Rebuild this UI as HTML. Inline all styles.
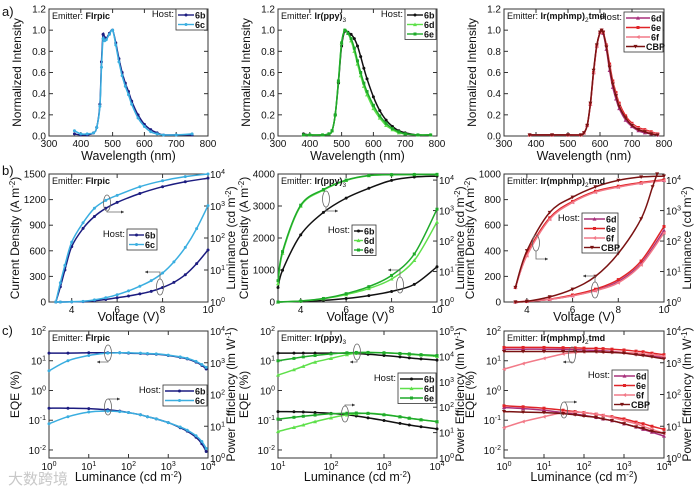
<!DOCTYPE html>
<html><head><meta charset="utf-8"><style>
html,body{margin:0;padding:0;background:#fff}
svg{display:block;font-family:"Liberation Sans","Noto Sans CJK SC",sans-serif}
</style></head><body>
<svg id="chart" width="700" height="491" viewBox="0 0 700 491" xmlns="http://www.w3.org/2000/svg"></svg>
<script>
// ---- Panel a data (EL spectra) ----
const wlA1 = [380,400,420,440,450,460,465,470,475,480,490,500,510,520,530,540,550,560,580,600,620,640,660,700,750];
const a1_6b = [0.02,0.01,0.01,0.03,0.08,0.3,0.7,0.96,0.93,0.92,0.97,1.0,0.88,0.73,0.6,0.5,0.42,0.33,0.2,0.11,0.06,0.03,0.01,0.01,0.01];
const a1_6c = [0.05,0.02,0.02,0.03,0.08,0.28,0.65,0.92,0.9,0.91,0.96,1.0,0.86,0.7,0.57,0.47,0.39,0.3,0.17,0.09,0.04,0.02,0.01,0.01,0.02];
const wlA2 = [380,400,440,460,470,480,490,500,510,520,530,540,550,560,570,580,600,620,640,660,680,700,740,780];
const a2_6b = [0.02,0.01,0.01,0.02,0.05,0.2,0.5,0.85,0.99,0.98,0.96,0.92,0.85,0.75,0.64,0.54,0.37,0.24,0.15,0.09,0.05,0.03,0.01,0.01];
const a2_6d = [0.01,0.01,0.01,0.02,0.05,0.2,0.52,0.88,1.0,0.97,0.9,0.8,0.68,0.57,0.47,0.39,0.26,0.17,0.1,0.06,0.03,0.02,0.01,0.01];
const a2_6e = [0.01,0.01,0.01,0.02,0.05,0.2,0.52,0.88,1.0,0.97,0.92,0.83,0.71,0.6,0.5,0.42,0.29,0.19,0.12,0.07,0.04,0.02,0.01,0.01];
const wlA3 = [380,450,500,540,550,560,570,580,590,600,605,610,620,630,640,650,660,680,700,720,740,760,780];
const a3_6d = [0.01,0.01,0.01,0.01,0.03,0.1,0.3,0.6,0.85,0.98,1.0,0.97,0.82,0.62,0.46,0.35,0.26,0.15,0.09,0.05,0.03,0.02,0.01];
const a3_6e = [0.01,0.01,0.01,0.01,0.03,0.1,0.3,0.6,0.85,0.98,1.0,0.98,0.86,0.68,0.52,0.41,0.31,0.19,0.12,0.08,0.06,0.04,0.02];
const a3_6f = [0.01,0.01,0.01,0.01,0.03,0.1,0.3,0.6,0.85,0.98,1.0,0.98,0.85,0.66,0.5,0.39,0.29,0.17,0.11,0.07,0.05,0.03,0.02];
const a3_CBP = [0.01,0.01,0.01,0.01,0.03,0.1,0.31,0.62,0.86,0.98,1.0,0.98,0.84,0.65,0.49,0.38,0.28,0.17,0.1,0.06,0.04,0.02,0.01];
// ---- Panel b data (J-V-L) ----
const vJ1 = [3.3,3.5,4,4.5,5,5.5,6,6.5,7,7.5,8,8.5,9,9.5,10];
const b1J_6b = [0,0,2,5,15,30,50,70,95,125,170,230,320,450,610];
const b1J_6c = [0,0,3,8,25,50,85,130,185,250,340,470,640,860,1130];
const vL1 = [3.3,3.5,3.7,4,4.5,5,5.5,6,7,8,9,10];
const b1L_6b = [1,3,10,54,200,470,850,1300,2450,4000,5750,7400];
const b1L_6c = [1,4,14,74,300,850,1500,2150,4000,6150,8300,10000];
const vJ2 = [3,4,5,6,7,8,9,10];
const b2J_6b = [0,20,50,110,200,330,550,1100];
const b2J_6d = [0,30,100,230,420,720,1300,2500];
const b2J_6e = [0,30,110,260,480,830,1500,2900];
const vL2 = [3,3.2,4,5,6,7,8,9,10];
const b2L_6b = [3,11,160,870,2570,5400,9800,12600,13500];
const b2L_6d = [4,40,1400,4700,9800,14000,15000,15200,15300];
const b2L_6e = [5,45,1500,4900,10000,14200,15100,15300,15400];
const vJ3 = [3.5,4,5,6,7,8,9,10];
const b3J_6d = [0,5,20,50,90,160,300,560];
const b3J_6e = [0,5,22,55,100,175,320,590];
const b3J_6f = [0,5,20,48,88,150,290,540];
const vJ3c = [3.5,4,5,6,7,8,9,9.5,9.7];
const b3J_CBP = [0,5,40,100,200,380,650,900,1000];
const vL3 = [3.5,4,5,6,7,8,9,10];
const b3L_6d = [3,35,540,1900,4100,6000,8000,9800];
const b3L_6e = [3,38,580,2000,4300,6300,8300,10200];
const b3L_6f = [3,33,520,1850,4000,5900,7900,9600];
const b3L_CBP = [3,48,870,2750,6000,9800,12600,13500];
// ---- Panel c data (EQE / PE vs luminance) ----
const lC1 = [1,3,10,30,60,100,200,300,500,1000,2000,3000,5000,7000,9000];
const c1E_6b = [18,18,18.5,18.5,18.5,18,17.5,17,16.5,15,13,11.5,9,7,5.3];
const c1E_6c = [4.6,10,15,18,18.5,18.5,18,17.5,17,15.5,13.5,12,9.5,7.5,6];
const c1P_6b = [37,37,36,33,30,27,23,20,17,13,9,7,4.5,2.8,1.6];
const c1P_6c = [12,20,28,30,29,27,23,20,17,13,9.5,7.5,5,3.3,2];
const lC2 = [10,20,30,50,100,200,300,500,1000,2000,3000,5000,10000];
const c2E_6b = [18,18,18,18,18,18,17.5,16.5,15,13.5,12.5,11.5,10.5];
const c2E_6d = [3.3,5,6.5,9,12,16,18,19,18.5,17.5,16.5,15.5,14];
const c2E_6e = [10,12,13.5,15,17,18.5,19,19,18.5,17.5,17,16,15];
const c2P_6b = [67,66,65,62,57,50,45,38,30,23,20,17,14];
const c2P_6d = [11,16,20,27,38,50,55,58,52,42,37,32,27];
const c2P_6e = [34,40,44,49,55,58,59,57,50,42,37,32,27];
const lC3 = [1,3,10,30,60,100,200,300,500,1000,2000,3000,5000,10000];
const c3E_6d = [24.5,24.5,24.5,24,23.5,23,22,21.5,20.5,19,17,16,14.5,13];
const c3E_6e = [28,28,28,27.5,27,26.5,26,25.5,24.5,23,21,20,18,16];
const c3E_6f = [5.2,8,12,17,19,20,20,20,19.5,19,18,17,16,14];
const c3E_CBP = [20.5,20.5,20.5,20.5,20.5,20,20,19.5,19,18,16,15,13.5,11.5];
const c3P_6d = [39,36,32,27,24,22,19,17,15,12,9.5,8,6.5,4.9];
const c3P_6e = [44,41,37,32,29,27,24,22,20,17,13.5,12,10,8];
const c3P_6f = [9,14,20,27,28,27,24,22,19,15,12,10,8,6];
const c3P_CBP = [29,28,27,25,23,21,19,17,15,12,9.5,8.5,7,6];
// ---- tick label arrays ----
const ticksWl = [300,400,500,600,700,800];
const ticksNorm = [0,0.2,0.4,0.6,0.8,1.0,1.2];
const ticksV = [4,6,8,10];
const ticksJ1 = [0,300,600,900,1200,1500];
const ticksJ2 = [0,1000,2000,3000,4000];
const ticksJ3 = [0,200,400,600,800,1000];

const NS = 'http://www.w3.org/2000/svg';
const svg = document.getElementById('chart');
const TF = 10;
function mk(tag, attrs, parent) {
  const e = document.createElementNS(NS, tag);
  for (const k in attrs) e.setAttribute(k, attrs[k]);
  (parent || svg).appendChild(e);
  return e;
}
function lin(d0,d1,r0,r1){return v=>r0+(v-d0)/(d1-d0)*(r1-r0);}
function lg(d0,d1,r0,r1){const f=lin(Math.log10(d0),Math.log10(d1),r0,r1);return v=>f(Math.log10(v));}
function pow10(parent,x,y,n,anchor){
  const t = mk('text',{x:x,y:y,'font-size':TF,'text-anchor':anchor,fill:'#111'},parent);
  
  
  t.appendChild(document.createTextNode('10'));
  const s = mk('tspan',{dy:-4,'font-size':7},t); s.textContent = n;
  return t;
}
function frame(name,x0,x1,y0,y1){
  const g = mk('g',{});
  
  
  const r = mk('rect',{x:x0,y:y0,width:x1-x0,height:y1-y0,fill:'none',stroke:'#333','stroke-width':1},g);
  
  
  return g;
}
function txt(parent,x,y,s,size,anchor,extra){
  const a = Object.assign({x:x,y:y,'font-size':size,'text-anchor':anchor||'start',fill:'#111'},extra||{});
  const t = mk('text',a,parent); t.textContent = s;
  return t;
}
function marker(parent,type,x,y,c){
  let m;
  if(type==='s') m = mk('rect',{x:x-1.5,y:y-1.5,width:3,height:3,fill:c},parent);
  else if(type==='t') m = mk('path',{d:`M${x},${y-2}L${x+2},${y+1.6}L${x-2},${y+1.6}Z`,fill:c},parent);
  else if(type==='v') m = mk('path',{d:`M${x},${y+2}L${x+2},${y-1.6}L${x-2},${y-1.6}Z`,fill:c},parent);
  else if(type==='l') m = mk('path',{d:`M${x-2},${y}L${x+1.6},${y-2}L${x+1.6},${y+2}Z`,fill:c},parent);
  else m = mk('circle',{cx:x,cy:y,r:1.5,fill:c},parent);
  
  
}
function smoothPath(P){
  let d=`M${P[0][0].toFixed(1)},${P[0][1].toFixed(1)}`;
  for(let i=0;i<P.length-1;i++){
    const p0=P[Math.max(i-1,0)],p1=P[i],p2=P[i+1],p3=P[Math.min(i+2,P.length-1)];
    const c1=[p1[0]+(p2[0]-p0[0])/6,p1[1]+(p2[1]-p0[1])/6];
    const c2=[p2[0]-(p3[0]-p1[0])/6,p2[1]-(p3[1]-p1[1])/6];
    d+=`C${c1[0].toFixed(1)},${c1[1].toFixed(1)} ${c2[0].toFixed(1)},${c2[1].toFixed(1)} ${p2[0].toFixed(1)},${p2[1].toFixed(1)}`;
  }
  return d;
}
function series(parent,name,xs,ys,sx,sy,c,mt,w){
  const g = mk('g',{},parent);
  
  
  const P = xs.map((x,i)=>[sx(x),sy(Math.max(ys[i],1e-9))]);
  const p = mk('path',{d:smoothPath(P),fill:'none',stroke:c,'stroke-width':w||1.5,'stroke-linejoin':'round'},g);
  
  
  P.forEach(q=>marker(g,mt,q[0],q[1],c));
}
function legend(parent,hostX,bx,by,bw,entries){
  const g = mk('g',{},parent);
  
  
  const h = entries.length*9.5+2;
  txt(g,bx-2,by+8,'Host:',9.5,'end');
  mk('rect',{x:bx,y:by,width:bw,height:h,fill:'#fff',stroke:'#333','stroke-width':0.8},g);
  entries.forEach((e,i)=>{
    const y = by+6+i*9.5;
    const lx1 = bx+bw-(e[0].length>2?18:13);
    const en = mk('g',{},g);
    
    
    mk('line',{x1:bx+2,y1:y,x2:lx1,y2:y,stroke:e[1],'stroke-width':1.4},en);
    marker(en,e[2],(bx+2+lx1)/2,y,e[1]);
    txt(en,lx1+1,y+3.5,e[0],9,'start',{'font-weight':'bold'});
  });
}
function ylabel(parent,x,yc,s,sup,after){
  const t = mk('text',{x:0,y:0,'font-size':12,'text-anchor':'middle',fill:'#111',transform:`translate(${x},${yc}) rotate(-90)`},parent);
  
  
  t.appendChild(document.createTextNode(s));
  if(sup){ const a=mk('tspan',{dy:-4,'font-size':8},t); a.textContent=sup; const b=mk('tspan',{dy:4},t); b.textContent=after; }
}
function xlabel(parent,xc,y,s,sup,after){
  const t = mk('text',{x:xc,y:y,'font-size':12.5,'text-anchor':'middle',fill:'#111'},parent);
  
  
  t.appendChild(document.createTextNode(s));
  if(sup){ const a=mk('tspan',{dy:-4,'font-size':8},t); a.textContent=sup; const b=mk('tspan',{dy:4},t); b.textContent=after; }
}
function tickLinX(g,sx,ticks,y0,y1,fmt){
  ticks.forEach(t=>{const x=sx(t);
    mk('line',{x1:x,y1:y1,x2:x,y2:y1-4,stroke:'#333'},g);
    mk('line',{x1:x,y1:y0,x2:x,y2:y0+4,stroke:'#333'},g);
    const l=txt(g,x,y1+11,fmt(t),TF,'middle');
    
    });
}
function tickLinY(g,sy,ticks,x0,x1,fmt,both){
  ticks.forEach(t=>{const y=sy(t);
    mk('line',{x1:x0,y1:y,x2:x0+4,y2:y,stroke:'#333'},g);
    if(both) mk('line',{x1:x1,y1:y,x2:x1-4,y2:y,stroke:'#333'},g);
    const l=txt(g,x0-3,y+3.5,fmt(t),TF,'end');
    
    });
}
function tickLogY(g,sy,e0,e1,x,side){
  for(let e=e0;e<=e1;e++){const y=sy(Math.pow(10,e));
    mk('line',{x1:x,y1:y,x2:x+(side==='l'?4:-4),y2:y,stroke:'#333'},g);
    if(side==='l') pow10(g,x-3,y+4,e,'end'); else pow10(g,x+2,y+4,e,'start');}
}
function tickLogX(g,sx,e0,e1,y0,y1){
  for(let e=e0;e<=e1;e++){const x=sx(Math.pow(10,e));
    mk('line',{x1:x,y1:y1,x2:x,y2:y1-4,stroke:'#333'},g);
    mk('line',{x1:x,y1:y0,x2:x,y2:y0+4,stroke:'#333'},g);
    pow10(g,x,y1+12,e,'middle');}
}
function emitter(g,x,y,s,sub,after){
  const t = mk('text',{x:x,y:y,'font-size':9,fill:'#111'},g);
  
  
  t.appendChild(document.createTextNode('Emitter: '));
  const b = mk('tspan',{'font-weight':'bold'},t); b.textContent=s;
  if(sub){const a=mk('tspan',{dy:3,'font-size':6.5},t);a.textContent=sub;const c=mk('tspan',{dy:-3,'font-weight':'bold'},t);c.textContent=after;}
}
function oval(g,cx,cy,ax,ay){
  const o=mk('ellipse',{cx:cx,cy:cy,rx:3.5,ry:8,fill:'none',stroke:'#666','stroke-width':0.8},g);
  
  
  mk('path',{d:`M${cx},${cy+(ay>cy?8:-8)}L${cx},${ay}L${ax},${ay}`,fill:'none',stroke:'#666','stroke-width':0.8},g);
  mk('path',{d:`M${ax},${ay}l${ax>cx?-3:3},-1.5v3z`,fill:'#333'},g);
}
// panel labels
[['a)',16],['b)',175],['c)',335]].forEach(p=>{const t=txt(svg,2,p[1],p[0],13,'start');
  
  });

const cols=[[49,208],[278,437],[504,664]];
const RA=[9,136], RB=[174,302], RC=[331,458];
const C = {nb:'#1c1c80',lb:'#3aaee0',bk:'#111',g1:'#5ee04a',g2:'#1faa2a',mg:'#a8307c',rd:'#e02428',pk:'#f27a88',dr:'#7a1212'};

// ---- Row a ----
const specs=[
 {wl:wlA1,s:[['6b',a1_6b,C.nb,'c'],['6c',a1_6c,C.lb,'c']],em:['FIrpic'],lg:[176,9,31]},
 {wl:wlA2,s:[['6b',a2_6b,C.bk,'c'],['6d',a2_6d,C.g1,'t'],['6e',a2_6e,C.g2,'s']],em:['Ir(ppy)','3',''],lg:[405,9,31]},
 {wl:wlA3,s:[['6d',a3_6d,C.mg,'t'],['6e',a3_6e,C.rd,'s'],['6f',a3_6f,C.pk,'l'],['CBP',a3_CBP,C.dr,'v']],em:['Ir(mphmp)','2','tmd'],lg:[624,12,39]}
];
specs.forEach((sp,i)=>{
  const [x0,x1]=cols[i];
  const g=frame('spectrum-panel-'+(i+1),x0,x1,RA[0],RA[1]);
  const sx=lin(300,800,x0,x1), sy=lin(0,1.2,RA[1],RA[0]);
  tickLinX(g,sx,ticksWl,RA[0],RA[1],t=>String(t));
  tickLinY(g,sy,ticksNorm,x0,x1,t=>t.toFixed(1),true);
  sp.s.forEach(s=>series(g,'series-'+s[0],sp.wl,s[1],sx,sy,s[2],s[3]));
  emitter(g,x0+3,RA[0]+10,...sp.em);
  legend(g,0,sp.lg[0],sp.lg[1],sp.lg[2],sp.s.map(s=>[s[0],s[2],s[3]]));
  ylabel(g,x0-28,(RA[0]+RA[1])/2,'Normalized Intensity');
  xlabel(g,(x0+x1)/2,160,'Wavelength (nm)');
});

// ---- Row b ----
const jv=[
 {jmax:1500,tk:ticksJ1,ltop:1e4,J:[[vJ1,b1J_6b,'6b',C.nb,'c'],[vJ1,b1J_6c,'6c',C.lb,'c']],L:[[vL1,b1L_6b,C.nb,'c'],[vL1,b1L_6c,C.lb,'c']],em:['FIrpic'],lg:[127,229,30],ov:[[107,203,124,212],[160,287,145,272]]},
 {jmax:4000,tk:ticksJ2,ltop:Math.pow(10,4.2),J:[[vJ2,b2J_6b,'6b',C.bk,'c'],[vJ2,b2J_6d,'6d',C.g1,'t'],[vJ2,b2J_6e,'6e',C.g2,'s']],L:[[vL2,b2L_6b,C.bk,'c'],[vL2,b2L_6d,C.g1,'t'],[vL2,b2L_6e,C.g2,'s']],em:['Ir(ppy)','3',''],lg:[352,225,24],ov:[[326,199,338,211],[400,285,388,270]]},
 {jmax:1000,tk:ticksJ3,ltop:Math.pow(10,4.2),J:[[vJ3,b3J_6d,'6d',C.mg,'t'],[vJ3,b3J_6e,'6e',C.rd,'s'],[vJ3,b3J_6f,'6f',C.pk,'l'],[vJ3c,b3J_CBP,'CBP',C.dr,'v']],L:[[vL3,b3L_6d,C.mg,'t'],[vL3,b3L_6e,C.rd,'s'],[vL3,b3L_6f,C.pk,'l'],[vL3,b3L_CBP,C.dr,'v']],em:['Ir(mphmp)','2','tmd'],lg:[582,213,36],ov:[[536,243,548,259],[595,290,583,276]]}
];
jv.forEach((p,i)=>{
  const [x0,x1]=cols[i];
  const g=frame('jvl-panel-'+(i+1),x0,x1,RB[0],RB[1]);
  const sx=lin(3,10,x0,x1), sy=lin(0,p.jmax,RB[1],RB[0]), sl=lg(1,p.ltop,RB[1],RB[0]);
  tickLinX(g,sx,ticksV,RB[0],RB[1],t=>String(t));
  tickLinY(g,sy,p.tk,x0,x1,t=>String(t),false);
  tickLogY(g,sl,0,4,x1,'r');
  p.L.forEach((s,k)=>series(g,'luminance-'+p.J[k][2],s[0],s[1],sx,sl,s[2],s[3]));
  p.J.forEach(s=>series(g,'current-density-'+s[2],s[0],s[1],sx,sy,s[3],s[4]));
  p.ov.forEach(o=>oval(g,...o));
  emitter(g,x0+3,RB[0]+10,...p.em);
  legend(g,0,p.lg[0],p.lg[1],p.lg[2],p.J.map(s=>[s[2],s[3],s[4]]));
  ylabel(g,x0-30,(RB[0]+RB[1])/2,'Current Density (A m','-2',')');
  ylabel(g,x1+27,(RB[0]+RB[1])/2,'Luminance (cd m','-2',')');
  xlabel(g,(x0+x1)/2,321,'Voltage (V)');
});

// ---- Row c ----
const ef=[
 {xmin:1,e0:0,rtop:1e4,rdec:4,x:lC1,E:[['6b',c1E_6b,C.nb,'c'],['6c',c1E_6c,C.lb,'c']],P:[c1P_6b,c1P_6c],em:['FIrpic'],lg:[163,385,44],ov:[[108,353,97,362],[108,407,120,399]]},
 {xmin:10,e0:1,rtop:1e5,rdec:5,x:lC2,E:[['6b',c2E_6b,C.bk,'c'],['6d',c2E_6d,C.g1,'t'],['6e',c2E_6e,C.g2,'s']],P:[c2P_6b,c2P_6d,c2P_6e],em:['Ir(ppy)','3',''],lg:[398,373,38],ov:[[357,352,350,362],[345,414,355,405]]},
 {xmin:1,e0:0,rtop:1e4,rdec:4,x:lC3,E:[['6d',c3E_6d,C.mg,'t'],['6e',c3E_6e,C.rd,'s'],['6f',c3E_6f,C.pk,'l'],['CBP',c3E_CBP,C.dr,'v']],P:[c3P_6d,c3P_6e,c3P_6f,c3P_CBP],em:['Ir(mphmp)','2','tmd'],lg:[612,370,36],ov:[[572,355,563,362],[564,410,577,402]]}
];
ef.forEach((p,i)=>{
  const [x0,x1]=cols[i];
  const g=frame('efficiency-panel-'+(i+1),x0,x1,RC[0],RC[1]);
  const sx=lg(p.xmin,1e4,x0,x1);
  const se=lg(Math.pow(10,-2.27),100,RC[1],RC[0]);
  const sp=lg(1,p.rtop,RC[1],RC[0]);
  tickLogX(g,sx,p.e0,4,RC[0],RC[1]);
  tickLogY(g,se,-2,2,x0,'l');
  tickLogY(g,sp,0,p.rdec,x1,'r');
  p.E.forEach((s,k)=>{
    series(g,'pe-'+s[0],p.x,p.P[k],sx,sp,s[2],s[3]);
    series(g,'eqe-'+s[0],p.x,s[1],sx,se,s[2],s[3]);
  });
  p.ov.forEach(o=>oval(g,...o));
  emitter(g,x0+3,RC[0]+10,...p.em);
  legend(g,0,p.lg[0],p.lg[1],p.lg[2],p.E.map(s=>[s[0],s[2],s[3]]));
  ylabel(g,x0-30,(RC[0]+RC[1])/2,'EQE (%)');
  ylabel(g,x1+27,(RC[0]+RC[1])/2,'Power Efficiency (lm W','-1',')');
  xlabel(g,(x0+x1)/2,481,'Luminance (cd m','-2',')');
});
const wm=txt(svg,8,484,'大数跨境',15,'start',{fill:'#c8c8c8'});


</script>
</body></html>
